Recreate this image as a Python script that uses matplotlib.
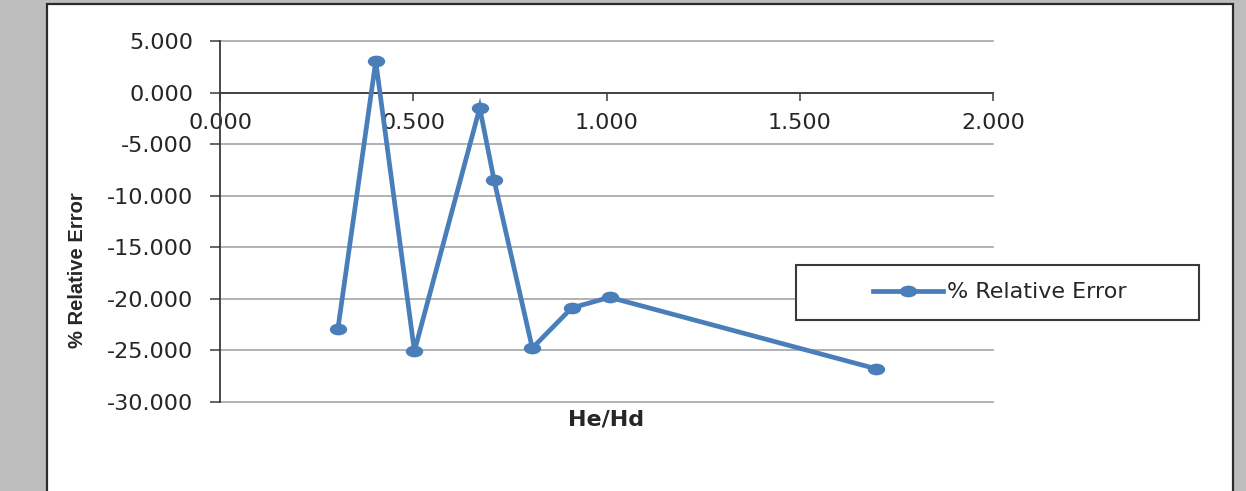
import matplotlib
matplotlib.use("Agg")
import matplotlib.pyplot as plt
from matplotlib.patches import Rectangle
from matplotlib.path import Path
from matplotlib.transforms import Affine2D
from matplotlib.lines import Line2D

# He/Hd ratio and the corresponding % relative error
he_hd = [0.305, 0.403, 0.503, 0.672, 0.709, 0.808, 0.910, 1.008, 1.697]
rel_error = [-22.94, 3.04, -25.10, -1.49, -8.48, -24.80, -20.90, -19.87, -26.80]

x_ticks = [0.0, 0.5, 1.0, 1.5, 2.0]
y_ticks = [5, 0, -5, -10, -15, -20, -25, -30]
series_name = "% Relative Error"

W, H = 1246, 491
fig = plt.figure(figsize=(W / 100, H / 100), dpi=100)
fig.patch.set_facecolor("#bdbdbd")

def fx(px):
    return px / W

def fy(py):
    return 1 - py / H

# white chart panel with dark frame
panel = Rectangle((fx(47), -0.02), fx(1232.5) - fx(47), fy(4) + 0.02,
                  transform=fig.transFigure, facecolor="white",
                  edgecolor="#2b2b2b", linewidth=1.6, zorder=-5)
fig.patches.append(panel)

ax = fig.add_axes([fx(220), fy(401.7), fx(993) - fx(220), fy(41) - fy(401.7)])
ax.set_facecolor("none")

blue = "#4a7ebb"
ellipse = Path.unit_circle().transformed(Affine2D().scale(1.55, 1.0))
ax.plot(he_hd, rel_error, color=blue, linewidth=3.4, marker=ellipse,
        markersize=11.5, markerfacecolor=blue, markeredgecolor=blue,
        solid_joinstyle="miter", zorder=3, clip_on=False)

ax.set_xlim(0, 2)
ax.set_ylim(-30, 5)
ax.set_xticks(x_ticks)
ax.set_yticks(y_ticks)
ax.set_xticklabels([f"{v:.3f}" for v in x_ticks])
ax.set_yticklabels([f"{v:.3f}" for v in y_ticks])

ax.grid(axis="y", color="#a6a6a6", linewidth=1.2, zorder=1)
ax.set_axisbelow(True)
for gl in ax.get_ygridlines():
    gl.set_clip_on(False)

for s in ("top", "right"):
    ax.spines[s].set_visible(False)
ax.spines["bottom"].set_position(("data", 0))
ax.spines["bottom"].set_color("#3a3a3a")
ax.spines["left"].set_color("#3a3a3a")
ax.spines["bottom"].set_linewidth(1.3)
ax.spines["left"].set_linewidth(1.3)

ax.tick_params(axis="x", direction="out", length=5.5, width=1.1,
               color="#3a3a3a", pad=9, labelcolor="#262626",
               labelsize=16)
ax.tick_params(axis="y", direction="out", length=7.2, width=1.1,
               color="#3a3a3a", pad=12, labelcolor="#262626",
               labelsize=16)

ax.set_xlabel("He/Hd", fontsize=16, fontweight="bold", color="#262626",
              family="DejaVu Sans", va="center")
ax.xaxis.set_label_coords(0.4994, -0.048)
ax.set_ylabel(series_name, fontsize=14.5, fontweight="bold", color="#262626",
              family=["Liberation Sans Narrow", "Liberation Sans"], va="center")
ax.yaxis.set_label_coords(-0.184, 0.365)

# legend with its own frame to the right of the plot
frame = Rectangle((fx(796), fy(320)), fx(1199) - fx(796), fy(265) - fy(320),
                  transform=fig.transFigure, facecolor="white",
                  edgecolor="#3a3a3a", linewidth=1.5, zorder=4)
fig.patches.append(frame)
handle = Line2D([], [], color=blue, linewidth=3.4, marker=ellipse,
                markersize=11.5, markerfacecolor=blue, markeredgecolor=blue)
leg = fig.legend([handle], [series_name], loc="center",
                 bbox_to_anchor=(fx(1000), fy(292.5)), frameon=False,
                 prop={"family": "DejaVu Sans", "size": 16},
                 handlelength=3.15, handletextpad=0.2, labelcolor="#262626")
leg.set_zorder(5)

fig.savefig("out.png", dpi=100, facecolor=fig.get_facecolor())
